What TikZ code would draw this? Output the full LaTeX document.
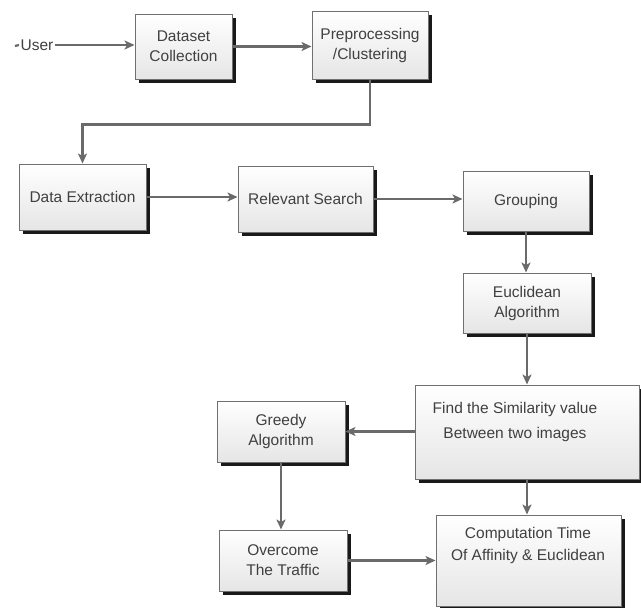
\documentclass[tikz,border=0pt]{standalone}
\usepackage{fontspec}
\setmainfont{Liberation Sans}
\usetikzlibrary{arrows.meta,shadows}
\definecolor{linec}{HTML}{6A6A6A}
\definecolor{boxline}{HTML}{707070}
\definecolor{txtc}{HTML}{404040}
\tikzset{
  boxnode/.style={draw=boxline, line width=1pt, top color=white, bottom color=black!10,
    drop shadow={shadow xshift=3.5pt, shadow yshift=-3.5pt, fill=black!90, opacity=1},
    inner sep=0pt, align=center, text=txtc, font=\fontsize{15.5}{20}\selectfont},
  txtnode/.style={inner sep=0pt, align=center, text=txtc, font=\fontsize{15.5}{20}\selectfont},
  conn/.style={draw=linec, line width=2.2pt, -{Stealth[length=10pt,width=9pt,inset=2.5pt]}},
  plainconn/.style={draw=linec, line width=2.2pt}
}
\begin{document}
\begin{tikzpicture}[x=1pt,y=-1pt]
\useasboundingbox[fill=white] (0,0) rectangle (641,608);
% boxes
\node[boxnode, minimum width=97pt, minimum height=65pt] (ds) at (183.5,46.5) {Dataset\\Collection};
\node[boxnode, minimum width=116pt, minimum height=68pt] (pp) at (370,45) {Preprocessing\\/Clustering};
\node[boxnode, minimum width=127pt, minimum height=66pt] (de) at (82.5,197) {Data Extraction};
\node[boxnode, minimum width=135pt, minimum height=66pt] (rs) at (305.5,199) {Relevant Search};
\node[boxnode, minimum width=126pt, minimum height=60pt] (gr) at (526,201) {Grouping};
\node[boxnode, minimum width=128pt, minimum height=60pt] (eu) at (527,303) {Euclidean\\Algorithm};
\node[boxnode, minimum width=224pt, minimum height=94pt] (fs) at (527,432) {};
\node[txtnode, font=\fontsize{15.5}{25}\selectfont] (fsT) at (515,422) {Find the Similarity value\\Between two images};
\node[boxnode, minimum width=128pt, minimum height=61pt] (ga) at (281,431.5) {Greedy\\Algorithm};
\node[boxnode, minimum width=128pt, minimum height=61pt] (oc) at (283,560.5) {Overcome\\The Traffic};
\node[boxnode, minimum width=185pt, minimum height=91pt] (ct) at (528.5,560.5) {};
\node[txtnode, font=\fontsize{15.5}{22}\selectfont] (ctT) at (528,545) {Computation Time\\Of Affinity \& Euclidean};
% user
\coordinate (u0) at (15,46);
\node[txtnode, inner sep=1.5pt] (user) at (37,45) {User};
% connectors
\draw[plainconn] (u0) -- (user.west);
\draw[conn] (user.east) -- (ds.west |- user.east);
\draw[conn] (ds.east) -- (pp.west |- ds.east);
\draw[conn] (pp.south) -- ++(0,45) -| (de.north);
\draw[conn] (de.east) -- (rs.west |- de.east);
\draw[conn] (rs.east) -- (gr.west |- rs.east);
\draw[conn] (gr.south) -- (gr.south |- eu.north);
\draw[conn] (eu.south) -- (eu.south |- fs.north);
\draw[conn] (fs.west |- ga.east) -- (ga.east);
\draw[conn] (ga.south) -- (ga.south |- oc.north);
\draw[conn] (oc.east) -- (oc.east -| ct.west);
\draw[conn] (fs.south) -- (fs.south |- ct.north);
\end{tikzpicture}
\end{document}
